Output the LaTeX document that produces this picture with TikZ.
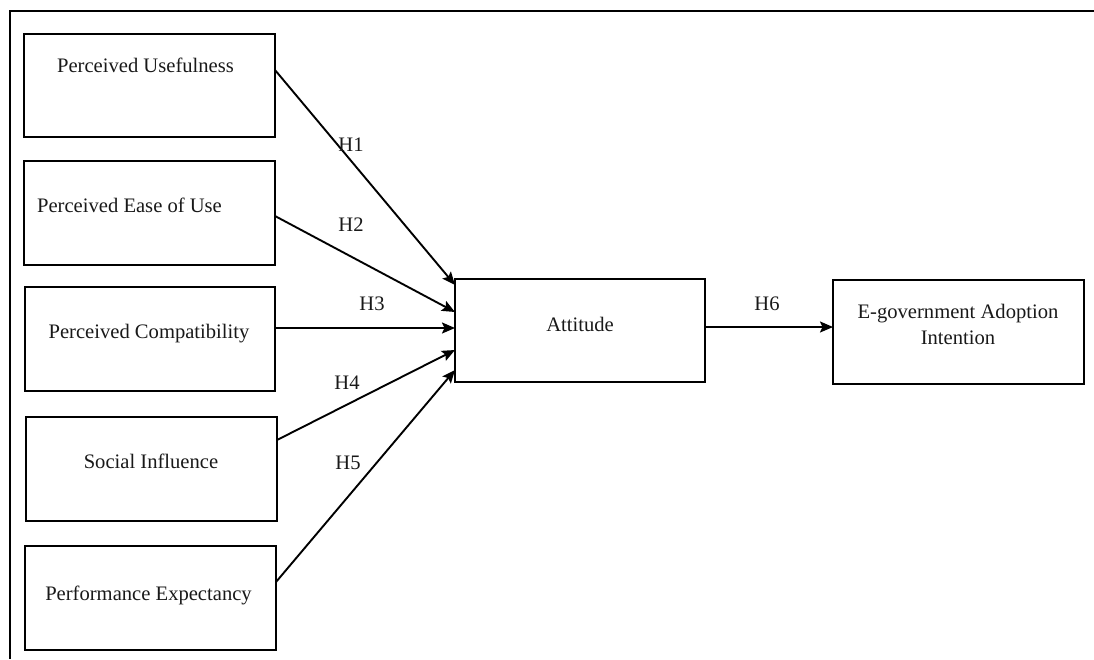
\documentclass[tikz,border=0pt]{standalone}
\usepackage{fontspec}
\setmainfont{Liberation Serif}
\usetikzlibrary{arrows.meta}
\begin{document}
\begin{tikzpicture}[x=1pt,y=-1pt,
  box/.style={draw=black,line width=2.3pt,minimum width=#1,minimum height=104pt,inner sep=0pt,outer sep=0pt},
  box/.default=251pt,
  txt/.style={anchor=base,inner sep=0pt,font=\fontsize{20.6}{26}\selectfont,text=black!90},
  conn/.style={line width=1.9pt,-{Stealth[length=13pt,width=11pt,inset=2.5pt]}},
  frame/.style={line width=2.2pt}]
\useasboundingbox (0,0) rectangle (1094,659);
% outer frame
\coordinate (fA) at (1094,11);
\coordinate (fB) at (10,11);
\coordinate (fC) at (10,659);
\draw[frame] (fA) -- (fB) -- (fC);
% boxes
\node[box,minimum height=103pt] (PU) at (149.5,85.5) {};
\node[box] (PEU) at (149.5,213) {};
\node[box=250pt] (PC) at (150,339) {};
\node[box] (SI) at (151.5,469) {};
\node[box] (PE) at (150.5,598) {};
\node[box=250pt,minimum height=103pt] (Att) at (580,330.5) {};
\node[box] (EG) at (958.5,332) {};
% texts
\node[txt] (tPU) at (145.5,72) {Perceived Usefulness};
\node[txt] (tPEU) at (129.5,212) {Perceived Ease of Use};
\node[txt] (tPC) at (149,338) {Perceived Compatibility};
\node[txt] (tSI) at (151,468) {Social Influence};
\node[txt] (tPE) at (148.5,600) {Performance Expectancy};
\node[txt] (tAtt) at (580,331) {Attitude};
\node[txt] (tEG1) at (958,318) {E-government Adoption};
\node[txt] (tEG2) at (958,344) {Intention};
% connectors
\draw[conn] ([yshift=15.5pt]PU.east) -- ([yshift=45.5pt]Att.west);
\draw[conn] ([yshift=-3pt]PEU.east) -- ([yshift=18.5pt]Att.west);
\draw[conn] ([yshift=11pt]PC.east) -- ([yshift=2.5pt]Att.west);
\draw[conn] ([yshift=29pt]SI.east) -- ([yshift=-19.5pt]Att.west);
\draw[conn] ([yshift=16pt]PE.east) -- ([yshift=-39.5pt]Att.west);
\draw[conn] ([yshift=3.5pt]Att.east) -- ([yshift=5pt]EG.west);
% labels
\node[txt] (H1) at (351,151) {H1};
\node[txt] (H2) at (351,231) {H2};
\node[txt] (H3) at (372,310) {H3};
\node[txt] (H4) at (347,389) {H4};
\node[txt] (H5) at (348,469) {H5};
\node[txt] (H6) at (767,310) {H6};
\end{tikzpicture}
\end{document}
